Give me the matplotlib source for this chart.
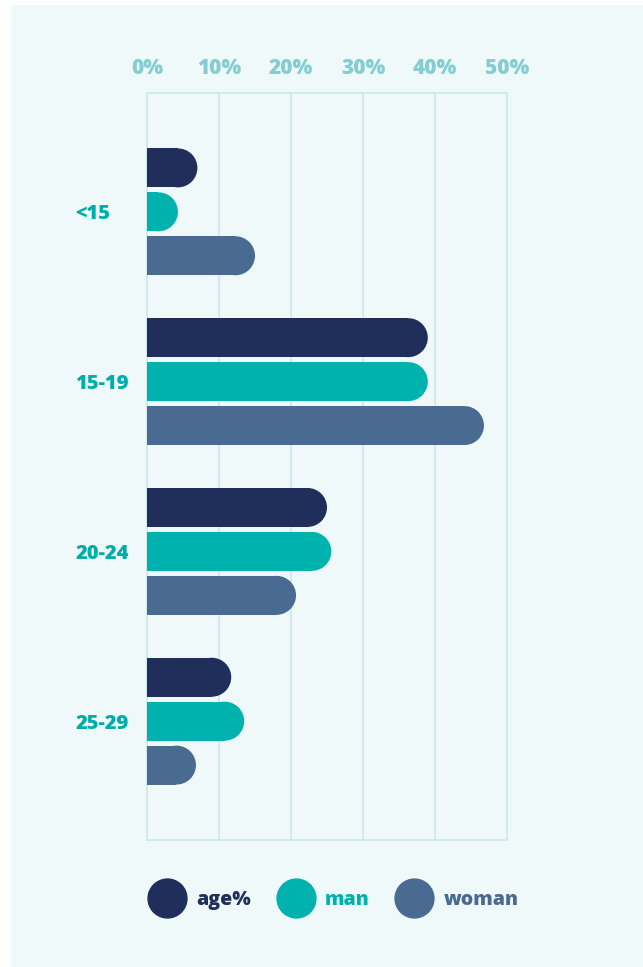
import matplotlib.pyplot as plt
from matplotlib.patches import Ellipse, Rectangle
from matplotlib.lines import Line2D

groups = ['<15', '15-19', '20-24', '25-29']
series = ['age%', 'man', 'woman']
age_pct = [7, 39, 25, 11.7]
man_pct = [4.3, 39, 25.6, 13.5]
woman_pct = [15, 46.8, 20.7, 6.8]
ticks = [0, 10, 20, 30, 40, 50]
tick_labels = ['0%', '10%', '20%', '30%', '40%', '50%']

colors = ['#1F2E5A', '#00B2AE', '#4A6B91']
bg = '#EFF9FA'
grid_c = '#D0E9EA'
label_c = '#00ADAA'
tick_c = '#84CDD0'

plt.rcParams['font.family'] = ['Open Sans', 'DejaVu Sans']

fig = plt.figure(figsize=(6.43, 9.67), dpi=100)
fig.patch.set_facecolor('white')
# light panel behind everything
fig.add_artist(Rectangle((11 / 643, 0), 1, 1 - 5 / 967, transform=fig.transFigure,
                         facecolor=bg, edgecolor='none', zorder=-10))

ax = fig.add_axes([147 / 643, 1 - 840 / 967, 360 / 643, 747 / 967])
ax.set_facecolor(bg)
ax.patch.set_alpha(0)

ax.set_xlim(0, 50)
ax.set_ylim(3.7, -0.7)

bar_h = 39 / 170
offset = 44 / 170
# radius of the round end in data units
px_per_x = 360 / 50
r_x = (39 / 2) / px_per_x

for i, vals in enumerate([age_pct, man_pct, woman_pct]):
    for g, v in enumerate(vals):
        y = g + (i - 1) * offset
        ax.barh(y, v - r_x, height=bar_h, color=colors[i], zorder=3)
        ax.add_patch(Ellipse((v - r_x, y), 2 * r_x, bar_h, facecolor=colors[i],
                             edgecolor='none', zorder=3))

ax.set_xticks(ticks)
ax.set_xticklabels(tick_labels)
ax.xaxis.tick_top()
ax.tick_params(axis='x', length=0, pad=10, labelsize=15, labelcolor=tick_c)
for t in ax.get_xticklabels():
    t.set_fontweight('heavy')

ax.set_yticks(range(len(groups)))
ax.set_yticklabels(groups)
ax.tick_params(axis='y', length=0, pad=51.5, labelsize=14.5, labelcolor=label_c)
for t in ax.get_yticklabels():
    t.set_fontweight('heavy')
    t.set_horizontalalignment('left')

ax.grid(axis='x', color=grid_c, linewidth=1.3, zorder=0)
for s in ax.spines.values():
    s.set_color(grid_c)
    s.set_linewidth(1.3)

handles = [Line2D([], [], marker='o', ls='', ms=28, color=c) for c in colors]
leg = fig.legend(handles, series, loc='center left', ncol=3, frameon=False,
                 bbox_to_anchor=(138 / 643, 1 - 900 / 967), borderpad=0,
                 handlelength=2, handletextpad=0.5, columnspacing=1.3,
                 prop={'weight': 'heavy', 'size': 14}, labelcolor=colors)

fig.savefig('out.png', dpi=100, facecolor=fig.get_facecolor())
